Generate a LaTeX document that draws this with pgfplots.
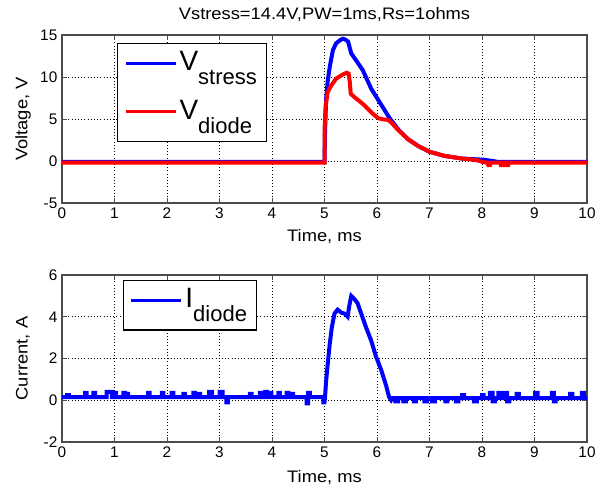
\documentclass[border=0pt]{standalone}
\usepackage{fontspec}
\setmainfont{Liberation Sans}
\newfontfamily\lblfont{Liberation Sans}[FakeStretch=1.1]
\usepackage{pgfplots}
\pgfplotsset{compat=1.18}
\definecolor{mblue}{RGB}{0,0,255}
\definecolor{mred}{RGB}{255,0,0}
\pgfplotsset{
  mstyle/.style={
    scale only axis, width=393.75pt,
    xmin=0, xmax=10, xtick={0,1,...,10},
    grid=major, grid style={dotted, black, line width=0.7pt},
    axis line style={black!70, line width=0.8pt},
    tick style={black!70, line width=0.7pt},
    major tick length=4pt, tick align=inside,
    /pgf/number format/assume math mode=true,
    ticklabel style={font=\fontsize{11.5}{12}\selectfont},
    label style={font=\lblfont\fontsize{12.5}{13}\selectfont},
    xlabel={Time, ms},
    legend cell align=left,
    legend image code/.code={\draw[##1, line width=2pt] (0pt,3.5pt) -- (37.5pt,3.5pt);},
  }
}
\begin{document}
\begin{tikzpicture}
\path (0,0) rectangle (450pt,366pt);
\begin{axis}[mstyle,
  at={(46.5pt,213.75pt)}, anchor=south west, height=126pt,
  ymin=-5, ymax=15, ytick={-5,0,5,10,15},
  ylabel={Voltage, V},
  title={Vstress=14.4V,PW=1ms,Rs=1ohms},
  title style={at={(axis description cs:0.5,1)}, anchor=center, yshift=9.5pt, font=\lblfont\fontsize{12.5}{13}\selectfont},
  xlabel style={at={(axis description cs:0.5,0)}, anchor=center, yshift=-25pt},
  ylabel style={at={(axis description cs:-0.0743,0.5)}, anchor=center},
  legend style={at={(rel axis cs:0.1048,0.952)}, anchor=north west, draw=black, line width=0.8pt,
    inner xsep=5pt, inner ysep=4pt, row sep=7pt, column sep=0pt,
    nodes={inner sep=2pt, text depth=, text height=}},
]
\addplot[mblue, line width=3pt] coordinates {
(0,-0.1) (4.99,-0.1) (5.0,-0.1) (5.01,3.5) (5.03,7.2) (5.06,9.5) (5.1,11.2) (5.16,13.2)
(5.22,14.0) (5.3,14.4) (5.35,14.55) (5.4,14.45) (5.45,14.2) (5.51,12.8) (5.6,12.0)
(5.73,10.8) (5.89,8.6) (6.05,7.0) (6.24,5.1) (6.4,3.8) (6.59,2.6) (6.78,1.8) (7.0,1.1)
(7.29,0.6) (7.61,0.3) (8.03,0.15) (8.2,0.0) (8.3,-0.1) (10,-0.1)
};
\addlegendentry{{\fontsize{21}{21}\selectfont V}\raisebox{-10.5pt}{\fontsize{16.5}{16.5}\selectfont stress}}
\addplot[mred, line width=3pt] coordinates {
(0,-0.2) (4.98,-0.2) (5.0,-0.2) (5.0,3.6) (5.02,6.4) (5.06,8.2) (5.13,9.0) (5.22,9.8)
(5.35,10.3) (5.42,10.5) (5.46,10.4) (5.48,9.5) (5.5,8.0) (5.57,7.6) (5.73,6.8) (5.89,5.8)
(6.02,5.1) (6.12,4.95) (6.21,4.9) (6.27,4.6) (6.4,3.7) (6.59,2.6) (6.78,1.8) (7.0,1.1)
(7.29,0.6) (7.61,0.3) (7.9,0.1) (8.0,-0.1) (8.1,-0.2) (8.12,-0.5) (8.15,-0.5) (8.16,-0.2)
(8.35,-0.2) (8.36,-0.5) (8.4,-0.5) (8.41,-0.2) (8.45,-0.2) (8.46,-0.5) (8.5,-0.5) (8.51,-0.2)
(10,-0.2)
};
\addlegendentry{{\fontsize{21}{21}\selectfont V}\raisebox{-10.5pt}{\fontsize{16.5}{16.5}\selectfont diode}}
\end{axis}
\begin{axis}[mstyle,
  at={(46.5pt,34.5pt)}, anchor=south west, height=125.25pt,
  ymin=-2, ymax=6, ytick={-2,0,2,4,6},
  ylabel={Current, A},
  xlabel style={at={(axis description cs:0.5,0)}, anchor=center, yshift=-26.5pt},
  ylabel style={at={(axis description cs:-0.0743,0.5)}, anchor=center},
  legend style={at={(rel axis cs:0.116,0.970)}, anchor=north west, draw=black, line width=0.8pt,
    inner xsep=5pt, inner ysep=4pt, column sep=0pt,
    nodes={inner sep=2pt, text depth=, text height=}},
]
\addplot[mblue, line width=3pt] coordinates {
(0,0.15) (0.1,0.15) (0.1,0.25) (0.13,0.25) (0.13,0.15)
(0.44,0.15) (0.44,0.35) (0.47,0.35) (0.47,0.15)
(0.6,0.15) (0.6,0.35) (0.63,0.35) (0.63,0.15)
(0.85,0.15) (0.85,0.4) (0.95,0.4) (0.95,0.15)
(1.0,0.15) (1.0,0.35) (1.03,0.35) (1.03,0.15)
(1.17,0.15) (1.17,0.35) (1.2,0.35) (1.2,0.15)
(1.23,0.15) (1.23,0.3) (1.26,0.3) (1.26,0.15)
(1.64,0.15) (1.64,0.35) (1.67,0.35) (1.67,0.15)
(1.9,0.15) (1.9,0.35) (1.93,0.35) (1.93,0.15)
(2.09,0.15) (2.09,0.35) (2.12,0.35) (2.12,0.15)
(2.31,0.15) (2.31,0.3) (2.34,0.3) (2.34,0.15)
(2.5,0.15) (2.5,0.35) (2.53,0.35) (2.53,0.15)
(2.6,0.15) (2.6,0.3) (2.63,0.3) (2.63,0.15)
(2.8,0.15) (2.8,0.4) (2.86,0.4) (2.86,0.15)
(3.0,0.15) (3.0,0.4) (3.06,0.4) (3.06,0.15)
(3.13,0.15) (3.13,-0.1) (3.16,-0.1) (3.16,0.15)
(3.58,0.15) (3.58,0.3) (3.61,0.3) (3.61,0.15)
(3.77,0.15) (3.77,0.35) (3.8,0.35) (3.8,0.15)
(3.87,0.15) (3.87,0.4) (3.9,0.4) (3.9,0.15)
(3.96,0.15) (3.96,0.35) (3.99,0.35) (3.99,0.15)
(4.12,0.15) (4.12,0.35) (4.15,0.35) (4.15,0.15)
(4.28,0.15) (4.28,0.35) (4.31,0.35) (4.31,0.15)
(4.37,0.15) (4.37,0.3) (4.4,0.3) (4.4,0.15)
(4.66,0.15) (4.66,-0.15) (4.69,-0.15) (4.69,0.35) (4.72,0.35) (4.72,0.15)
(4.98,0.15) (4.98,-0.1) (5.0,-0.1) (5.01,0.15)
(5.03,0.9) (5.06,1.7) (5.1,2.7) (5.14,3.5) (5.19,4.15) (5.25,4.34) (5.32,4.2) (5.38,4.15)
(5.44,4.0) (5.47,4.5) (5.51,5.0) (5.57,4.85) (5.63,4.65) (5.7,4.15) (5.79,3.5) (5.89,2.85)
(5.98,2.1) (6.08,1.45) (6.17,0.73) (6.23,0.16) (6.27,0.0) (6.3,0.1)
(6.35,0.1) (6.35,-0.05) (6.4,-0.05) (6.4,0.1)
(6.5,0.1) (6.5,-0.05) (6.55,-0.05) (6.55,0.1)
(6.7,0.1) (6.7,-0.05) (6.74,-0.05) (6.74,0.1)
(6.9,0.1) (6.9,-0.05) (6.95,-0.05) (6.95,0.1)
(7.05,0.1) (7.05,-0.05) (7.1,-0.05) (7.1,0.1)
(7.3,0.1) (7.3,-0.05) (7.34,-0.05) (7.34,0.1)
(7.5,0.1) (7.5,-0.05) (7.55,-0.05) (7.55,0.1)
(7.62,0.1) (7.62,0.25) (7.66,0.25) (7.66,0.1)
(7.85,0.1) (7.85,-0.05) (7.9,-0.05) (7.9,0.1)
(8.0,0.1) (8.0,0.25) (8.03,0.25) (8.03,0.1)
(8.15,0.1) (8.15,0.35) (8.2,0.35) (8.2,-0.05) (8.25,-0.05) (8.25,0.1)
(8.31,0.1) (8.31,0.35) (8.36,0.35) (8.36,0.1)
(8.44,0.1) (8.44,0.35) (8.48,0.35) (8.48,-0.05) (8.52,-0.05) (8.52,0.1)
(8.66,0.1) (8.66,0.3) (8.7,0.3) (8.7,0.1)
(9.01,0.1) (9.01,0.35) (9.06,0.35) (9.06,0.1)
(9.33,0.1) (9.33,0.35) (9.37,0.35) (9.37,-0.05) (9.4,-0.05) (9.4,0.1)
(9.68,0.1) (9.68,0.3) (9.72,0.3) (9.72,0.1)
(9.9,0.1) (9.9,0.35) (9.94,0.35) (9.94,0.1) (10,0.1)
};
\addlegendentry{{\fontsize{21}{21}\selectfont I}\raisebox{-10.5pt}{\fontsize{16.5}{16.5}\selectfont diode}}
\end{axis}
\end{tikzpicture}
\end{document}
